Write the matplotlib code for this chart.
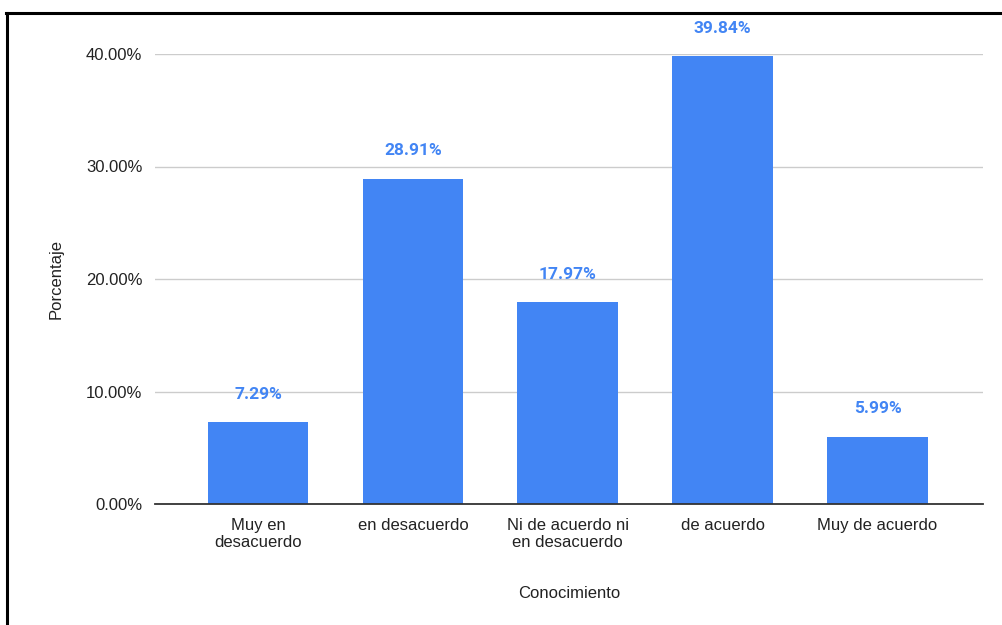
import matplotlib.pyplot as plt
from matplotlib.lines import Line2D
from matplotlib.ticker import FuncFormatter

# Datos
categorias = ["Muy en\ndesacuerdo", "en desacuerdo", "Ni de acuerdo ni\nen desacuerdo",
              "de acuerdo", "Muy de acuerdo"]
porcentajes = [7.29, 28.91, 17.97, 39.84, 5.99]
ticks_y = [0, 10, 20, 30, 40]

azul = "#4285F4"
plt.rcParams['font.family'] = ['Liberation Sans', 'DejaVu Sans']

fig = plt.figure(figsize=(10.03, 6.25), dpi=100)
ax = fig.add_axes([0.1545, 0.1936, 0.8255, 0.72])

x = range(len(categorias))
ax.bar(x, porcentajes, width=0.65, color=azul, zorder=3)

for xi, v in zip(x, porcentajes):
    ax.annotate(f"{v:.2f}%", (xi, v), xytext=(0, 20), textcoords="offset points",
                ha="center", va="center", color=azul, fontsize=12.5,
                fontweight="bold", family=["Roboto", "DejaVu Sans"],
                annotation_clip=False, zorder=4)

ax.set_xlim(-0.665, 4.68)
ax.set_ylim(0, 40)
ax.set_yticks(ticks_y)
ax.yaxis.set_major_formatter(FuncFormatter(lambda v, p: f"{v:.2f}%"))
ax.set_xticks(list(x))
ax.set_xticklabels(categorias, fontsize=12, color="#222222")
ax.tick_params(axis="y", labelsize=12, colors="#222222", length=0, pad=9)
ax.tick_params(axis="x", length=0, pad=10)

ax.grid(axis="y", color="#cccccc", linewidth=1, zorder=0)
for s in ["top", "right", "left"]:
    ax.spines[s].set_visible(False)
ax.spines["bottom"].set_color("#333333")
ax.spines["bottom"].set_linewidth(1.3)
ax.spines["bottom"].set_zorder(5)

ax.set_ylabel("Porcentaje", fontsize=12, color="#222222", labelpad=16)
ax.set_xlabel("Conocimiento", fontsize=12, color="#222222", labelpad=26)

# Borde negro (izquierda y arriba)
fig.add_artist(Line2D([7 / 1003, 7 / 1003], [0, 1 - 13 / 625], color="black",
                      linewidth=2.2, transform=fig.transFigure))
fig.add_artist(Line2D([6 / 1003, 1], [1 - 13 / 625, 1 - 13 / 625], color="black",
                      linewidth=2.2, transform=fig.transFigure))

fig.savefig("out.png", dpi=100)
